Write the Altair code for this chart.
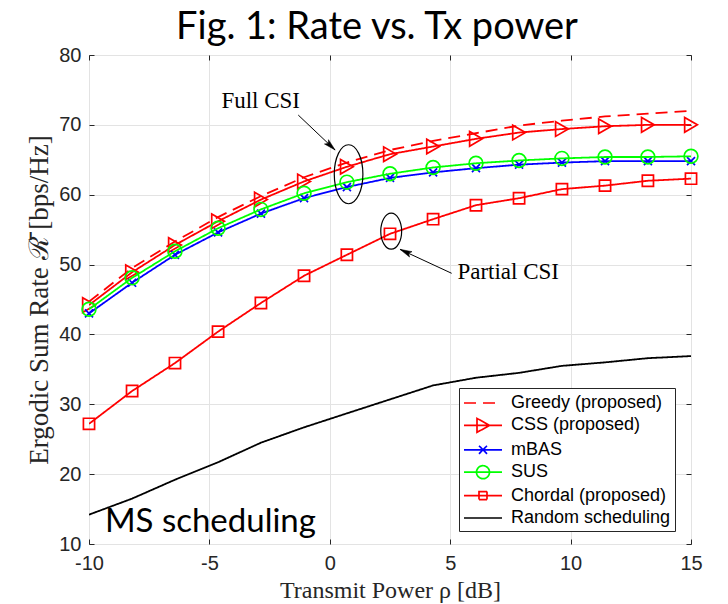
import math
import altair as alt
import pandas as pd

# ---------------- data ----------------
x_db = [-10.0, -8.21, -6.43, -4.64, -2.86, -1.07, 0.71, 2.5, 4.29, 6.07, 7.86, 9.64, 11.43, 13.21, 15.0]
greedy = [44.7, 49.5, 53.3, 56.8, 59.8, 62.5, 64.6, 66.4, 67.7, 68.8, 69.9, 70.6, 71.2, 71.6, 72.0]
css = [44.2, 48.9, 52.8, 56.2, 59.3, 61.9, 64.0, 65.8, 66.9, 68.0, 68.9, 69.4, 69.8, 70.0, 70.0]
mbas = [43.0, 47.4, 51.4, 54.6, 57.3, 59.5, 61.1, 62.4, 63.2, 63.8, 64.3, 64.6, 64.8, 64.8, 64.8]
sus = [43.6, 48.1, 51.9, 55.2, 57.9, 60.2, 61.8, 63.0, 63.9, 64.5, 64.9, 65.2, 65.4, 65.4, 65.5]
chordal = [27.2, 31.9, 35.9, 40.4, 44.5, 48.4, 51.4, 54.4, 56.5, 58.5, 59.5, 60.8, 61.3, 62.0, 62.3]
random_sched = [14.2, 16.5, 19.2, 21.7, 24.5, 26.7, 28.7, 30.7, 32.7, 33.8, 34.5, 35.5, 36.0, 36.6, 36.9]

series_names = ["Greedy (proposed)", "CSS (proposed)", "mBAS", "SUS",
                "Chordal (proposed)", "Random scheduling"]
series_values = [greedy, css, mbas, sus, chordal, random_sched]

x_ticks = [-10, -5, 0, 5, 10, 15]
y_ticks = [10, 20, 30, 40, 50, 60, 70, 80]

# annotations (data coordinates)
note_text = ["Full CSI", "Partial CSI"]
note_x = [-2.87, 5.30]
note_y = [72.4, 47.9]
arrow_x_from = [-1.31, 5.06]
arrow_y_from = [71.4, 48.75]
arrow_x_to = [0.22, 2.915]
arrow_y_to = [66.4, 52.18]
ellipse_x = [0.78, 2.55]
ellipse_y = [62.93, 54.78]
corner_text = ["MS scheduling"]
corner_x = [-9.34]
corner_y = [11.76]

# ---------------- styles ----------------
series_colors = ["#FF0000", "#FF0000", "#0000FF", "#00FF00", "#FF0000", "#000000"]
series_dashes = [[12, 7], [1, 0], [1, 0], [1, 0], [1, 0], [1, 0]]
marker_shape = {
    "CSS (proposed)": ("triangle-right", 215),
    "mBAS": ("M-1,-1L1,1M-1,1L1,-1", 64),
    "SUS": ("circle", 190),
    "Chordal (proposed)": ("square", 125),
}
legend_paths = [
    "M-1,0H2.8",
    "M-1,0H2.8M0.3,-0.7L1.55,0L0.3,0.7Z",
    "M-1,0H2.8M0.5,-0.4L1.3,0.4M0.5,0.4L1.3,-0.4",
    "M-1,0H2.8M1.55,0A0.65,0.65 0 1,1 0.25,0A0.65,0.65 0 1,1 1.55,0",
    "M-1,0H2.8M0.5,-0.4H1.3V0.4H0.5Z",
    "M-1,0H2.8",
]
ellipse_shape = ["M0,-1A0.485,1 0 1,1 0,1A0.485,1 0 1,1 0,-1",
                 "M0,-1A0.58,1 0 1,1 0,1A0.58,1 0 1,1 0,-1"]
ellipse_size = [3481, 1296]

W, H = 602, 489
PX_X = W / 25.0
PX_Y = H / 70.0

rows = []
for name, vals in zip(series_names, series_values):
    for xv, yv in zip(x_db, vals):
        rows.append({"series": name, "x": xv, "y": yv})
df = pd.DataFrame(rows)

notes_df = pd.DataFrame({"text": note_text, "x": note_x, "y": note_y,
                         "align": ["center", "left"]})
arrows_df = pd.DataFrame({"x": arrow_x_from, "y": arrow_y_from,
                          "x2": arrow_x_to, "y2": arrow_y_to})
arrows_df["angle"] = [
    (math.degrees(math.atan2((b - a) * PX_X, (d - c) * PX_Y)) + 360) % 360
    for a, b, c, d in zip(arrow_x_from, arrow_x_to, arrow_y_from, arrow_y_to)
]
ell_df = pd.DataFrame({"x": ellipse_x, "y": ellipse_y})
corner_df = pd.DataFrame({"text": corner_text, "x": corner_x, "y": corner_y})

x_scale = alt.Scale(domain=[-10, 15], nice=False, zero=False)
y_scale = alt.Scale(domain=[10, 80], nice=False, zero=False)
color_scale = alt.Scale(domain=series_names, range=series_colors)
dash_scale = alt.Scale(domain=series_names, range=series_dashes)
shape_scale = alt.Scale(domain=series_names, range=legend_paths)

legend = alt.Legend(
    title=None, orient="none", legendX=370, legendY=333,
    padding=4, fillColor="white", strokeColor="#262626",
    cornerRadius=0, symbolSize=400, symbolStrokeWidth=1.7, symbolOpacity=1,
    symbolFillColor="transparent",
    labelOffset=26, rowPadding=2.4, labelFont="Liberation Sans",
    labelFontSize=18, labelColor="#000000", labelLimit=400,
)

label_expr = "'' + datum.value"

main_x_axis = alt.Axis(
    values=x_ticks, title="Transmit Power ρ [dB]", offset=-5, tickSize=5,
    tickColor="#262626", tickWidth=1, domain=False, grid=True,
    gridColor="#E3E3E3", gridWidth=1, labelFont="Liberation Sans",
    labelFontSize=20, labelColor="#262626", labelPadding=9, labelFlush=False,
    labelExpr=label_expr,
    titleFont="Liberation Serif", titleFontSize=24, titleFontWeight="normal",
    titleColor="#262626", titlePadding=5,
)
main_y_axis = alt.Axis(
    values=y_ticks, title="Ergodic Sum Rate ℛ̄ [bps/Hz]", offset=-5, tickSize=5,
    tickColor="#262626", tickWidth=1, domain=False, grid=True,
    gridColor="#E3E3E3", gridWidth=1, labelFont="Liberation Sans",
    labelFontSize=20, labelColor="#262626", labelPadding=8, labelFlush=False,
    labelExpr=label_expr,
    titleFont="Liberation Serif", titleFontSize=27, titleFontWeight="normal",
    titleColor="#262626", titlePadding=5,
)

layers = []
for i, name in enumerate(series_names):
    base = alt.Chart(df).transform_filter(alt.datum.series == name)
    line = base.mark_line(strokeWidth=1.8, clip=True, color=series_colors[i],
                          strokeDash=series_dashes[i]).encode(
        x=alt.X("x:Q", scale=x_scale, axis=main_x_axis if i == 0 else None),
        y=alt.Y("y:Q", scale=y_scale, axis=main_y_axis if i == 0 else None),
    )
    layers.append(line)
    if name in marker_shape:
        shp, sz = marker_shape[name]
        pts = base.mark_point(shape=shp, size=sz, filled=False,
                              stroke=series_colors[i], strokeWidth=1.7,
                              opacity=1).encode(
            x=alt.X("x:Q", scale=x_scale, axis=None),
            y=alt.Y("y:Q", scale=y_scale, axis=None),
        )
        layers.append(pts)

# legend carrier: draws no marks (filtered empty), only supplies the legend
legend_layer = alt.Chart(df).transform_filter("datum.x > 1000").mark_point(
    filled=False, size=400, strokeWidth=1.7, opacity=1).encode(
    x=alt.X("x:Q", scale=x_scale, axis=None),
    y=alt.Y("y:Q", scale=y_scale, axis=None),
    color=alt.Color("series:N", scale=color_scale, legend=legend),
    strokeDash=alt.StrokeDash("series:N", scale=dash_scale, legend=legend),
    shape=alt.Shape("series:N", scale=shape_scale, legend=legend),
)

ellipse_layers = []
for k in range(len(ellipse_x)):
    ellipse_layers.append(
        alt.Chart(ell_df.iloc[[k]]).mark_point(
            shape=ellipse_shape[k], size=ellipse_size[k], filled=False,
            stroke="black", strokeWidth=1.2, opacity=1).encode(
            x=alt.X("x:Q", scale=x_scale, axis=None),
            y=alt.Y("y:Q", scale=y_scale, axis=None),
        )
    )
arrow_lines = alt.Chart(arrows_df).mark_rule(color="black", strokeWidth=1).encode(
    x=alt.X("x:Q", scale=x_scale, axis=None),
    y=alt.Y("y:Q", scale=y_scale, axis=None),
    x2="x2:Q", y2="y2:Q",
)
arrow_heads = alt.Chart(arrows_df).mark_point(
    shape="M0,0L-0.42,1.7L0,1.35L0.42,1.7Z", size=196, filled=True,
    fill="black", stroke="black", strokeWidth=0.5, opacity=1).encode(
    x=alt.X("x2:Q", scale=x_scale, axis=None),
    y=alt.Y("y2:Q", scale=y_scale, axis=None),
    angle=alt.Angle("angle:Q", scale=None),
)
note_full = alt.Chart(notes_df).transform_filter(alt.datum.align == "center").mark_text(
    font="Liberation Serif", fontSize=23, align="center", baseline="alphabetic",
    color="black").encode(
    x=alt.X("x:Q", scale=x_scale, axis=None),
    y=alt.Y("y:Q", scale=y_scale, axis=None), text="text:N")
note_partial = alt.Chart(notes_df).transform_filter(alt.datum.align == "left").mark_text(
    font="Liberation Serif", fontSize=23, align="left", baseline="alphabetic",
    color="black").encode(
    x=alt.X("x:Q", scale=x_scale, axis=None),
    y=alt.Y("y:Q", scale=y_scale, axis=None), text="text:N")
corner = alt.Chart(corner_df).mark_text(
    font="Lato", fontSize=33, align="left", baseline="alphabetic",
    color="black").encode(
    x=alt.X("x:Q", scale=x_scale, axis=None),
    y=alt.Y("y:Q", scale=y_scale, axis=None), text="text:N")

tick_layer = alt.Chart(df).mark_point(opacity=0).encode(
    x=alt.X("x:Q", scale=x_scale, axis=alt.Axis(
        orient="top", values=x_ticks, labels=False, domain=False, grid=False,
        ticks=True, tickSize=5, offset=-5, tickColor="#262626", title=None)),
    y=alt.Y("y:Q", scale=y_scale, axis=alt.Axis(
        orient="right", values=y_ticks, labels=False, domain=False, grid=False,
        ticks=True, tickSize=5, offset=-5, tickColor="#262626", title=None)),
)

layers += [legend_layer] + ellipse_layers + [arrow_lines, arrow_heads, note_full,
                                              note_partial, corner, tick_layer]

chart = alt.layer(*layers).resolve_axis(
    x="independent", y="independent"
).properties(
    width=W, height=H,
    autosize=alt.AutoSizeParams(type="none"),
    padding={"left": 89, "top": 55, "right": 37, "bottom": 60},
    title=alt.TitleParams("Fig. 1: Rate vs. Tx power", font="Lato", fontSize=38,
                          fontWeight="normal", color="black", anchor="middle",
                          offset=1, dx=-13, dy=3),
).configure_view(stroke="#262626", strokeWidth=1)

chart.save("out.html", embed_options={"renderer": "svg", "actions": False})
